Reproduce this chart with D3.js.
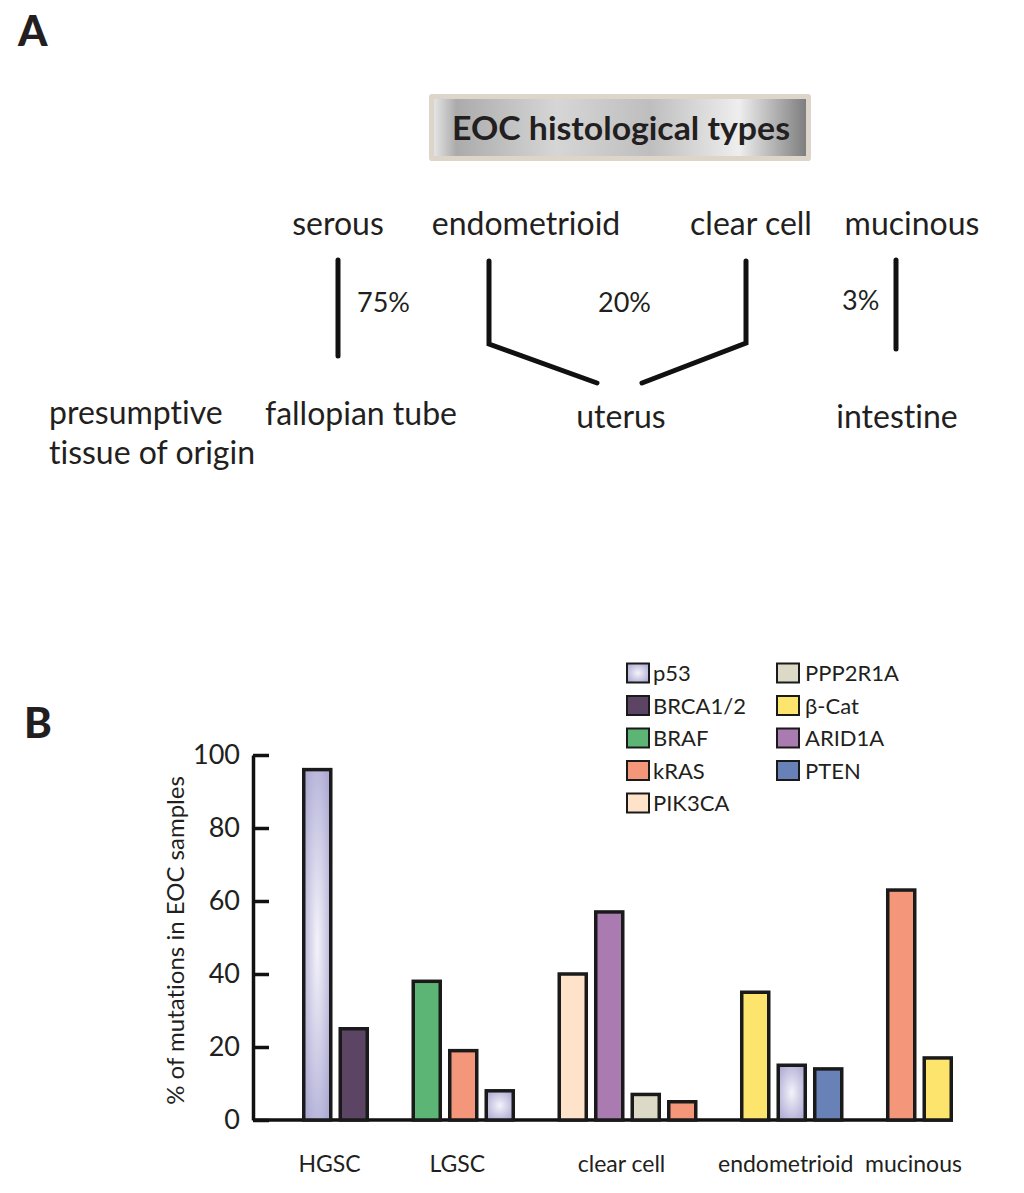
<!DOCTYPE html>
<html>
<head>
<meta charset="utf-8">
<script src="https://cdn.jsdelivr.net/npm/d3@7"></script>
<style>
  body { margin: 0; background: #fff; }
  text { font-family: Lato, "Open Sans", sans-serif; fill: #231f20; font-variant-ligatures: none; font-feature-settings: "liga" 0, "dlig" 0; }
</style>
</head>
<body>
<script>
// ---- panel A content ----
const histTypes = ["serous", "endometrioid", "clear cell", "mucinous"];
const typeShares = ["75%", "20%", "3%"];
const tissues = ["fallopian tube", "uterus", "intestine"];

// ---- panel B data ----
const groups = ["HGSC", "LGSC", "clear cell", "endometrioid", "mucinous"];
const groupGenes = [
    ["p53", "BRCA1/2"],
    ["BRAF", "kRAS", "p53"],
    ["PIK3CA", "ARID1A", "PPP2R1A", "kRAS"],
    ["β-Cat", "p53", "PTEN"],
    ["kRAS", "β-Cat"]
];
const groupValues = [
    [96, 25],
    [38, 19, 8],
    [40, 57, 7, 5],
    [35, 15, 14],
    [63, 17]
];
const legendGenes = ["p53", "BRCA1/2", "BRAF", "kRAS", "PIK3CA", "PPP2R1A", "β-Cat", "ARID1A", "PTEN"];
const yTicks = [0, 20, 40, 60, 80, 100];

const geneColor = {
    "p53": "url(#p53grad)",
    "BRCA1/2": "#5c4465",
    "BRAF": "#5cb574",
    "kRAS": "#f4967a",
    "PIK3CA": "#fee2c9",
    "PPP2R1A": "#dcd9c6",
    "β-Cat": "#fde46c",
    "ARID1A": "#a97bb0",
    "PTEN": "#6882b8"
};

let svg = d3.select("body").append("svg")
    .attr("width", 1024)
    .attr("height", 1193);

let defs = svg.append("defs");
let p53grad = defs.append("radialGradient").attr("id", "p53grad")
    .attr("cx", 0.5).attr("cy", 0.5).attr("r", 0.6);
p53grad.append("stop").attr("offset", 0).attr("stop-color", "#f4f3fa");
p53grad.append("stop").attr("offset", 1).attr("stop-color", "#aeacd4");

let boxGrad = defs.append("linearGradient").attr("id", "boxgrad");
[[0, "#e4e4e4"], [0.06, "#ababab"], [0.33, "#d6d6d6"], [0.58, "#bebebe"], [0.82, "#eeeeee"], [1, "#7e7e7e"]]
    .forEach(function (s) {
        boxGrad.append("stop").attr("offset", s[0]).attr("stop-color", s[1]);
    });

// ================= panel A =================
svg.append("text")
    .attr("x", 18).attr("y", 46)
    .style("font-size", "42px").style("font-weight", 900)
    .text("A");

// title box
svg.append("rect")
    .attr("x", 429).attr("y", 94).attr("width", 382).attr("height", 67)
    .attr("rx", 3)
    .attr("fill", "#ddd5c9");
svg.append("rect")
    .attr("x", 434).attr("y", 99).attr("width", 372).attr("height", 57)
    .attr("fill", "url(#boxgrad)");
svg.append("text")
    .attr("x", 621).attr("y", 140)
    .attr("text-anchor", "middle")
    .attr("textLength", 338).attr("lengthAdjust", "spacingAndGlyphs")
    .style("font-size", "33px").style("font-weight", 700)
    .text("EOC histological types");

let typeX = [338, 526, 751, 912];
svg.selectAll(".histType")
    .data(histTypes)
    .enter().append("text")
    .attr("class", "histType")
    .attr("x", (d, i) => typeX[i])
    .attr("y", 235)
    .attr("text-anchor", "middle")
    .style("font-size", "32px")
    .text(d => d);

let shareX = [357, 598, 842];
svg.selectAll(".share")
    .data(typeShares)
    .enter().append("text")
    .attr("class", "share")
    .attr("x", (d, i) => shareX[i])
    .attr("y", (d, i) => i == 2 ? 310 : 312)
    .style("font-size", "27px")
    .text(d => d);

// connectors from type to tissue
let connectors = [
    [[338, 260], [338, 356]],
    [[489, 261], [489, 344], [597, 383]],
    [[746, 261], [746, 343], [642, 383]],
    [[896, 260], [896, 349]]
];
svg.selectAll(".connector")
    .data(connectors)
    .enter().append("path")
    .attr("class", "connector")
    .attr("d", d3.line())
    .attr("fill", "none")
    .attr("stroke", "#111")
    .attr("stroke-width", 5)
    .attr("stroke-linecap", "round")
    .attr("stroke-linejoin", "miter");

svg.append("text").attr("x", 49).attr("y", 424)
    .style("font-size", "32px").text("presumptive");
svg.append("text").attr("x", 49).attr("y", 464)
    .style("font-size", "32px").text("tissue of origin");

let tissueX = [361, 621, 897];
svg.selectAll(".tissue")
    .data(tissues)
    .enter().append("text")
    .attr("class", "tissue")
    .attr("x", (d, i) => tissueX[i])
    .attr("y", (d, i) => i == 0 ? 425 : 428)
    .attr("text-anchor", "middle")
    .style("font-size", "32px")
    .text(d => d);

// ================= panel B =================
svg.append("text")
    .attr("x", 24).attr("y", 738)
    .style("font-size", "42px").style("font-weight", 900)
    .text("B");

// flatten bars, leaving one empty slot between groups
let bars = [];
let slots = [];
groups.forEach(function (g, gi) {
    if (gi > 0) slots.push("gap" + gi);
    groupGenes[gi].forEach(function (gene, k) {
        let key = g + "|" + gene;
        slots.push(key);
        bars.push({ key: key, group: g, gene: gene, value: groupValues[gi][k] });
    });
});

let axisX = 253;
let xScale = d3.scaleBand()
    .domain(slots)
    .range([302, 953])
    .paddingInner(0.164)
    .paddingOuter(0);

let yScale = d3.scaleLinear()
    .domain([0, 100])
    .range([1120, 755]);

let sw = 3.5;

// baseline
svg.append("line")
    .attr("x1", axisX).attr("x2", xScale.range()[1])
    .attr("y1", yScale(0)).attr("y2", yScale(0))
    .attr("stroke", "#111").attr("stroke-width", sw);

let yAxis = d3.axisLeft(yScale)
    .tickValues(yTicks)
    .tickSizeInner(-16)
    .tickSizeOuter(0)
    .tickPadding(13);

let yAxisG = svg.append("g")
    .attr("transform", "translate(" + axisX + ",0)")
    .call(yAxis);
yAxisG.select(".domain")
    .attr("stroke", "#111").attr("stroke-width", sw);
yAxisG.selectAll(".tick line")
    .attr("stroke", "#111").attr("stroke-width", sw);
yAxisG.selectAll(".tick text")
    .style("font-family", "Lato, sans-serif")
    .style("font-size", "27px")
    .attr("fill", "#231f20");

svg.append("text")
    .attr("transform", "translate(184," + ((yScale(0) + yScale(100)) / 2 + 3) + ") rotate(-90)")
    .attr("text-anchor", "middle")
    .style("font-size", "24px")
    .text("% of mutations in EOC samples");

svg.append("g")
    .selectAll("rect")
    .data(bars)
    .enter().append("rect")
    .attr("x", d => xScale(d.key) + sw / 2)
    .attr("y", d => yScale(d.value))
    .attr("width", xScale.bandwidth() - sw)
    .attr("height", d => yScale(0) - yScale(d.value))
    .attr("fill", d => geneColor[d.gene])
    .attr("stroke", "#1a1a1a")
    .attr("stroke-width", sw);

// category labels under each group
svg.selectAll(".groupLabel")
    .data(groups)
    .enter().append("text")
    .attr("class", "groupLabel")
    .attr("x", function (g, gi) {
        let genes = groupGenes[gi];
        let first = xScale(g + "|" + genes[0]);
        let last = xScale(g + "|" + genes[genes.length - 1]) + xScale.bandwidth();
        return (first + last) / 2 - 6;
    })
    .attr("y", 1172)
    .attr("text-anchor", "middle")
    .style("font-size", "23px")
    .text(d => d);

// legend
let legend = svg.append("g").selectAll("g")
    .data(legendGenes)
    .enter().append("g")
    .attr("transform", function (d, i) {
        let col = i < 5 ? 0 : 1;
        let row = i < 5 ? i : i - 5;
        return "translate(" + (col == 0 ? 627 : 777) + "," + (673 + row * 32.5) + ")";
    });
legend.append("rect")
    .attr("x", 0).attr("y", -9.5)
    .attr("width", 22).attr("height", 19)
    .attr("fill", d => geneColor[d])
    .attr("stroke", "#1a1a1a")
    .attr("stroke-width", 2);
legend.append("text")
    .attr("x", (d, i) => i < 5 ? 26 : 28)
    .attr("y", 8)
    .style("font-size", "22px")
    .text(d => d);
</script>
</body>
</html>
